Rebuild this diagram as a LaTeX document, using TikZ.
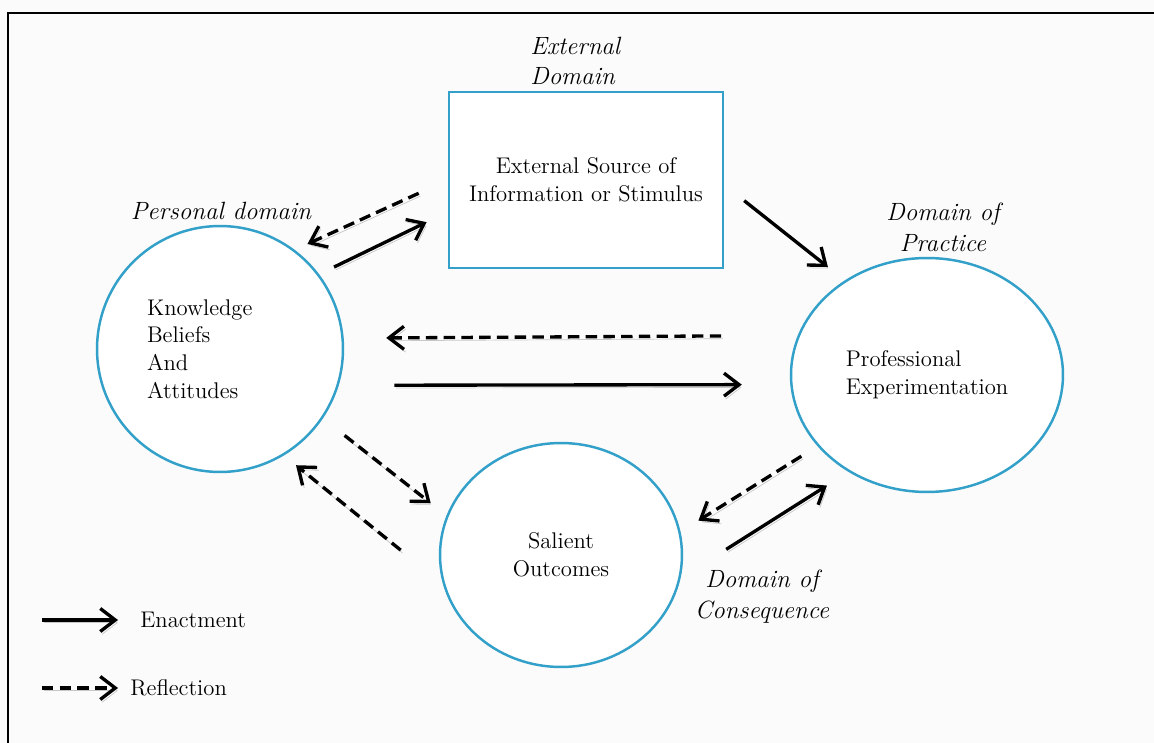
\documentclass[tikz,border=0pt]{standalone}
\usepackage{tikz}
\usetikzlibrary{shapes.geometric, arrows.meta, positioning, backgrounds}

\definecolor{rimblue}{RGB}{50,160,200}

\begin{document}
\begin{tikzpicture}[
        x=0.02cm, y=-0.02cm,
        % Text size inside the domains
        nodefont/.style={font=\fontsize{12.9}{15.8}\selectfont},
        % Box for the external source
        domainbox/.style={
                rectangle,
                draw=rimblue,
                line width=1.4pt,
                fill=white,
                minimum width=5.48cm,
                minimum height=3.52cm,
                align=center,
                nodefont
            },
        % Round domains
        domainellipse/.style={
                ellipse,
                draw=rimblue,
                line width=1.4pt,
                fill=white,
                inner sep=0pt,
                nodefont
            },
        % Italic domain names
        domainlabel/.style={
                inner sep=0pt,
                font=\fontsize{14.2}{17.6}\selectfont\itshape
            },
        legendtext/.style={
                inner sep=0pt,
                anchor=west,
                nodefont
            },
        % Arrows
        flow/.style={
                line width=1.9pt,
                -{Straight Barb[length=3mm, width=4.6mm]},
                preaction={draw=black!22, transform canvas={shift={(1pt,-1.6pt)}}}
            },
        enactarrow/.style={flow},
        reflectarrow/.style={flow, dash pattern=on 6.5pt off 3.6pt}
    ]

    % Page and frame
    \fill[black!1.5] (0,0) rectangle (1154,743);
    \useasboundingbox (0,0) rectangle (1154,743);
    \draw[line width=1.3pt] (8,743) -- (8,13) -- (1154,13);

    % Domains
    \node[domainbox] (src) at (586,180) {External Source of\\Information or Stimulus};

    \node[domainellipse, minimum width=4.92cm, minimum height=4.92cm,
        text width=2.92cm, align=left] (know) at (220,349) {
        Knowledge\\
        Beliefs\\
        And\\
        Attitudes
    };

    \node[domainellipse, minimum width=5.44cm, minimum height=4.68cm,
        align=left] (prof) at (927,375) {Professional\\Experimentation};

    \node[domainellipse, minimum width=4.84cm, minimum height=4.48cm,
        align=center] (sal) at (561,555) {Salient\\Outcomes};

    % Domain names
    \node[domainlabel, anchor=west, align=left] (extlab) at (530,61) {External\\Domain};
    \node[domainlabel] (perslab) at (221,211) {Personal domain};
    \node[domainlabel, align=center] (praclab) at (943,227) {Domain of\\Practice};
    \node[domainlabel, align=center] (conslab) at (762,597) {Domain of\\Consequence};

    % Enactment
    \draw[enactarrow, shorten <=0.33cm, shorten >=0.47cm] (know.37) -- (src.193);
    \draw[enactarrow, shorten <=0.51cm, shorten >=0.43cm] (src.-2) -- (prof.131);
    \draw[enactarrow, shorten <=1.11cm, shorten >=0.97cm] (know.-17) -- (prof.184);
    \draw[enactarrow, shorten <=1.08cm, shorten >=0.51cm] (sal.-11) -- (prof.231);

    % Reflection
    \draw[reflectarrow, shorten <=0.64cm, shorten >=0.28cm] (src.west) -- (know.53);
    \draw[reflectarrow, shorten <=1.53cm, shorten >=0.85cm] (prof.163.5) -- (know.5);
    \draw[reflectarrow, shorten <=0.55cm, shorten >=0.40cm] (know.-34) -- (sal.161);
    \draw[reflectarrow, shorten <=1.09cm, shorten >=0.31cm] (sal.194) -- (know.-59);
    \draw[reflectarrow, shorten <=0.38cm, shorten >=0.42cm] (prof.213) -- (sal.11.5);

    % Legend
    \node[legendtext] (enactlab) at (140,620) {Enactment};
    \node[legendtext] (reflectlab) at (130,688) {Reflection};
    \coordinate (enactstart) at (42,620);
    \coordinate (reflectstart) at (42,688);
    \draw[enactarrow, shorten >=0.44cm] (enactstart) -- (enactlab.west);
    \draw[reflectarrow, shorten >=0.24cm] (reflectstart) -- (reflectlab.west);

\end{tikzpicture}
\end{document}
